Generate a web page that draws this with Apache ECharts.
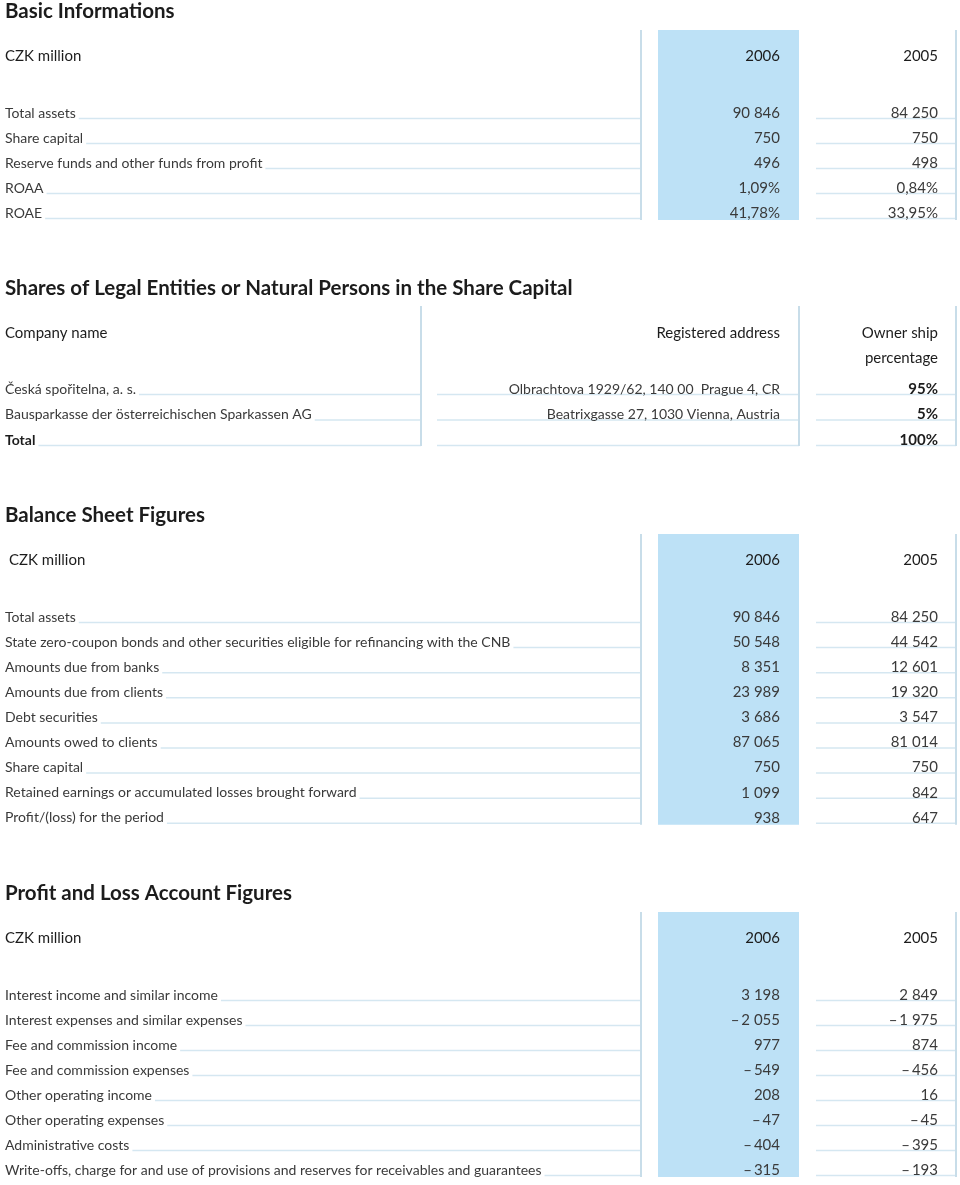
<!DOCTYPE html>
<html><head><meta charset="utf-8">
<script src="https://cdn.jsdelivr.net/npm/echarts@6/dist/echarts.min.js"></script>
<style>html,body{margin:0;padding:0;background:#fff}#c{width:960px;height:1185px}</style>
</head><body><div id="c"></div>
<script>
// ---------- DATA ----------
const yearHeaders = ['2006', '2005'];

const basicTitle = 'Basic Informations';
const basicRows = ['Total assets', 'Share capital', 'Reserve funds and other funds from profit', 'ROAA', 'ROAE'];
const basic2006 = [90846, 750, 496, 1.09, 41.78];
const basic2005 = [84250, 750, 498, 0.84, 33.95];
const basicFormat = ['n', 'n', 'n', 'p', 'p'];

const sharesTitle = 'Shares of Legal Entities or Natural Persons in the Share Capital';
const sharesHeaders = ['Company name', 'Registered address', 'Owner ship', 'percentage'];
const sharesCompanies = ['Česká spořitelna, a. s.', 'Bausparkasse der österreichischen Sparkassen AG', 'Total'];
const sharesAddresses = ['Olbrachtova 1929/62, 140 00  Prague 4, CR', 'Beatrixgasse 27, 1030 Vienna, Austria', ''];
const sharesPercent = [95, 5, 100];

const balanceTitle = 'Balance Sheet Figures';
const balanceRows = ['Total assets',
  'State zero-coupon bonds and other securities eligible for refinancing with the CNB',
  'Amounts due from banks', 'Amounts due from clients', 'Debt securities', 'Amounts owed to clients',
  'Share capital', 'Retained earnings or accumulated losses brought forward', 'Profit/(loss) for the period'];
const balance2006 = [90846, 50548, 8351, 23989, 3686, 87065, 750, 1099, 938];
const balance2005 = [84250, 44542, 12601, 19320, 3547, 81014, 750, 842, 647];

const plTitle = 'Profit and Loss Account Figures';
const plRows = ['Interest income and similar income', 'Interest expenses and similar expenses',
  'Fee and commission income', 'Fee and commission expenses', 'Other operating income',
  'Other operating expenses', 'Administrative costs',
  'Write-offs, charge for and use of provisions and reserves for receivables and guarantees'];
const pl2006 = [3198, -2055, 977, -549, 208, -47, -404, -315];
const pl2005 = [2849, -1975, 874, -456, 16, -45, -395, -193];

const unitLabel = 'CZK million';

// ---------- STYLE ----------
const FONT = 'Lato, "Noto Sans", sans-serif';
const LINE = '#d5e7f1';
const VLINE = '#c8dde9';
const BLUE = '#bde1f6';
const TXT = '#3a3a3a';
const HEAD = '#1c1c1c';
const LABEL = 14;
const VAL = 15;
const TITLE = 20.5;

function fmtNum(v) {
  const s = Math.abs(v).toString().replace(/\B(?=(\d{3})+(?!\d))/g, ' ');
  return (v < 0 ? '\u2013\u2009' : '') + s;
}
function fmtPct(v) { return v.toFixed(2).replace('.', ',') + '%'; }

const layout = [
  { first: 113, step: 25 },
  { first: 389, step: 25.5 },
  { first: 617, step: 25.1 },
  { first: 995, step: 25 }
];
const COL = { labelX: 5, leftEnd: 641, blueL: 658, blueR: 799, v06R: 780, rightL: 816, rightEnd: 956, v05R: 938,
  sh1: 421, sh2L: 437, sh2: 799 };

function txt(x, y, text, o) {
  o = o || {};
  return { type: 'text', z2: o.z2 || 10, x: x, y: y, style: {
    text: text, fill: o.fill || TXT, fontFamily: FONT, fontSize: o.size || LABEL,
    fontWeight: o.weight || 'normal', align: o.align || 'left', verticalAlign: 'middle',
    backgroundColor: o.bg, padding: o.bg ? [0, 3, 0, 0] : 0 } };
}
function hline(x1, x2, y) {
  return { type: 'line', z2: 2, shape: { x1: x1, y1: y, x2: x2, y2: y }, style: { stroke: LINE, lineWidth: 1.5 } };
}
function vline(x, y1, y2) {
  return { type: 'line', z2: 3, shape: { x1: x, y1: y1, x2: x, y2: y2 }, style: { stroke: VLINE, lineWidth: 2 } };
}

function finSeries(gi, title, headerX, rows, v06, v05) {
  const n = rows.length;
  return {
    type: 'custom', xAxisIndex: gi, yAxisIndex: gi, clip: false,
    data: rows.map((r, i) => [0, i]),
    renderItem: function (params, api) {
      const i = params.dataIndex;
      const X = x => api.coord([x, i])[0];
      const cy = api.coord([0, i])[1];
      const step = api.size([0, 1])[1];
      const ch = [];
      if (i === 0) {
        const top = cy - 83, bottom = cy + (n - 1) * step + 7;
        ch.push({ type: 'rect', z2: 0, shape: { x: X(COL.blueL), y: top, width: X(COL.blueR) - X(COL.blueL), height: bottom - top }, style: { fill: BLUE } });
        ch.push(vline(X(COL.leftEnd), top, bottom));
        ch.push(vline(X(COL.rightEnd), top, bottom));
        ch.push(txt(X(COL.labelX), cy - 102, title, { size: TITLE, weight: 'bold', fill: HEAD }));
        ch.push(txt(X(headerX), cy - 57, unitLabel, { size: 15, fill: HEAD }));
        ch.push(txt(X(COL.v06R), cy - 57, yearHeaders[0], { size: 15, fill: HEAD, align: 'right' }));
        ch.push(txt(X(COL.v05R), cy - 57, yearHeaders[1], { size: 15, fill: HEAD, align: 'right' }));
      }
      const ly = cy + 5.5;
      ch.push(hline(X(COL.labelX), X(COL.leftEnd), ly));
      ch.push(hline(X(COL.rightL), X(COL.rightEnd), ly));
      ch.push(txt(X(COL.labelX), cy, rows[i], { bg: '#ffffff' }));
      ch.push(txt(X(COL.v06R), cy, v06[i], { align: 'right', size: VAL }));
      ch.push(txt(X(COL.v05R), cy, v05[i], { align: 'right', size: VAL }));
      return { type: 'group', children: ch };
    }
  };
}

function sharesSeries(gi) {
  const n = sharesCompanies.length;
  return {
    type: 'custom', xAxisIndex: gi, yAxisIndex: gi, clip: false,
    data: sharesCompanies.map((c, i) => [0, i]),
    renderItem: function (params, api) {
      const i = params.dataIndex;
      const X = x => api.coord([x, i])[0];
      const cy = api.coord([0, i])[1];
      const step = api.size([0, 1])[1];
      const ch = [];
      if (i === 0) {
        const top = cy - 83, bottom = cy + (n - 1) * step + 6;
        ch.push(vline(X(COL.sh1), top, bottom));
        ch.push(vline(X(COL.sh2), top, bottom));
        ch.push(vline(X(COL.rightEnd), top, bottom));
        ch.push(txt(X(COL.labelX), cy - 101, sharesTitle, { size: TITLE, weight: 'bold', fill: HEAD }));
        ch.push(txt(X(COL.labelX), cy - 56, sharesHeaders[0], { size: 15, fill: HEAD }));
        ch.push(txt(X(COL.v06R), cy - 56, sharesHeaders[1], { size: 15, fill: HEAD, align: 'right' }));
        ch.push(txt(X(COL.v05R), cy - 56, sharesHeaders[2], { size: 15, fill: HEAD, align: 'right' }));
        ch.push(txt(X(COL.v05R), cy - 31, sharesHeaders[3], { size: 15, fill: HEAD, align: 'right' }));
      }
      const ly = cy + 5.5;
      const isTotal = i === n - 1;
      ch.push(hline(X(COL.labelX), X(COL.sh1), ly));
      ch.push(hline(X(COL.sh2L), X(COL.sh2), ly));
      ch.push(hline(X(COL.rightL), X(COL.rightEnd), ly));
      ch.push(txt(X(COL.labelX), cy, sharesCompanies[i], { bg: '#ffffff', weight: isTotal ? 'bold' : 'normal', fill: isTotal ? HEAD : TXT }));
      ch.push(txt(X(COL.v06R), cy, sharesAddresses[i], { align: 'right' }));
      ch.push(txt(X(COL.v05R), cy, sharesPercent[i] + '%', { align: 'right', weight: 'bold', fill: HEAD, size: VAL }));
      return { type: 'group', children: ch };
    }
  };
}

const rowSets = [basicRows, sharesCompanies, balanceRows, plRows];
const grids = layout.map((l, k) => ({ left: 0, right: 0, top: l.first - l.step / 2, height: rowSets[k].length * l.step }));
const xAxes = layout.map((l, k) => ({ type: 'value', gridIndex: k, min: 0, max: 960, show: false }));
const yAxes = layout.map((l, k) => ({ type: 'category', gridIndex: k, data: rowSets[k], inverse: true, show: false }));

const fmtRow = (arr, fmts) => arr.map((v, i) => (fmts && fmts[i] === 'p') ? fmtPct(v) : fmtNum(v));

const option = {
  animation: false,
  backgroundColor: '#ffffff',
  grid: grids, xAxis: xAxes, yAxis: yAxes,
  series: [
    finSeries(0, basicTitle, 5, basicRows, fmtRow(basic2006, basicFormat), fmtRow(basic2005, basicFormat)),
    sharesSeries(1),
    finSeries(2, balanceTitle, 9, balanceRows, fmtRow(balance2006), fmtRow(balance2005)),
    finSeries(3, plTitle, 5, plRows, fmtRow(pl2006), fmtRow(pl2005))
  ]
};
const chart = echarts.init(document.getElementById('c'), null, { renderer: 'canvas' });
chart.setOption(option);
</script></body></html>
